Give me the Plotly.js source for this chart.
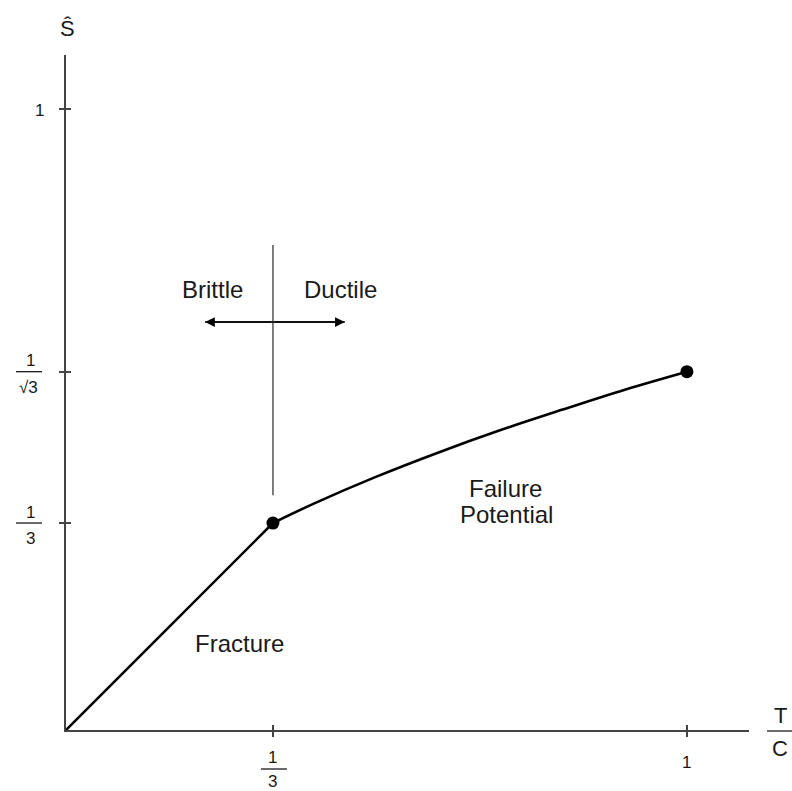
<!DOCTYPE html>
<html>
<head>
<meta charset="utf-8">
<script src="https://cdn.plot.ly/plotly-3.0.1.min.js"></script>
<style>html,body{margin:0;padding:0;background:#fff;}#chart{width:792px;height:791px;}</style>
</head>
<body>
<div id="chart"></div>
<script>
// Data
const fractureX = [0, 0.3333];
const fractureY = [0, 0.3333];
const ductileX = [0.3333, 0.4, 0.5, 0.6, 0.7, 0.8, 0.9, 1.0];
const ductileY = [0.3333, 0.365, 0.408, 0.447, 0.483, 0.516, 0.548, 0.577];
const pointsX = [0.3333, 1.0];
const pointsY = [0.3333, 0.577];
const xTickVals = [0.3333, 1.0];
const yTickVals = [0.3333, 0.577, 1.0];
const dividerX = 0.3333;
const dividerY = [0.378, 0.781];
const arrowY = 0.657;
const arrowX = [0.224, 0.449];

const X_RANGE = [0, 1.1];
const Y_RANGE = [0, 1.087];

const FONT = 'Liberation Sans, Arial, Helvetica, sans-serif';
const TXT = '#1a1a1a';
const AX = '#444444';

const traces = [
  {x: fractureX, y: fractureY, mode: 'lines', line: {color: '#000', width: 2.6}, hoverinfo: 'skip'},
  {x: ductileX, y: ductileY, mode: 'lines', line: {color: '#000', width: 2.6, shape: 'spline'}, hoverinfo: 'skip'},
  {x: [dividerX, dividerX], y: dividerY, mode: 'lines', line: {color: '#555', width: 1.5}, hoverinfo: 'skip'},
  {x: [arrowX[0], arrowX[1]], y: [arrowY, arrowY], mode: 'lines', line: {color: '#000', width: 1.5}, hoverinfo: 'skip'},
  {x: pointsX, y: pointsY, mode: 'markers', marker: {color: '#000', size: 13}, hoverinfo: 'skip', cliponaxis: false},
  // invisible trace so the inner-tick axes are drawn
  {x: [0], y: [0], xaxis: 'x2', yaxis: 'y2', mode: 'markers', marker: {opacity: 0}, hoverinfo: 'skip'}
];

const shapes = [];
function px(v) { return (v - X_RANGE[0]) / (X_RANGE[1] - X_RANGE[0]); }
function py(v) { return (v - Y_RANGE[0]) / (Y_RANGE[1] - Y_RANGE[0]); }
function bar(xa, ya, x0, x1, y0) {
  shapes.push({type: 'line', xref: 'paper', yref: 'paper', xsizemode: 'pixel', ysizemode: 'pixel',
    xanchor: px(xa), yanchor: py(ya), x0: x0, x1: x1, y0: y0, y1: y0, line: {color: TXT, width: 1.3}});
}

const ann = [];
function lab(x, y, text, xs, ys, size) {
  ann.push({x: x, y: y, xref: 'x', yref: 'y', text: text, showarrow: false, xshift: xs, yshift: ys,
    font: {family: FONT, size: size, color: TXT}, xanchor: 'center', yanchor: 'middle'});
}

// y tick labels
lab(0, yTickVals[2], '1', -27, -1, 17);
lab(0, yTickVals[1], '1', -36, 11, 17); bar(0, yTickVals[1], -50, -24, 0); lab(0, yTickVals[1], '√3', -38, -16, 17);
lab(0, yTickVals[0], '1', -36, 11, 17); bar(0, yTickVals[0], -50, -24, 0); lab(0, yTickVals[0], '3', -36, -15, 17);
// x tick labels
lab(xTickVals[0], 0, '1', 0, -27, 17); bar(xTickVals[0], 0, -12, 14, -39); lab(xTickVals[0], 0, '3', 0, -51, 17);
lab(xTickVals[1], 0, '1', 0, -32, 17);
// axis titles
lab(X_RANGE[1], 0, 'T', 31, 15, 22); bar(X_RANGE[1], 0, 18, 43, -1); lab(X_RANGE[1], 0, 'C', 31, -18, 22);
lab(0, Y_RANGE[1], 'Ŝ', 1, 27, 22);
// region labels
lab(dividerX, arrowY, 'Brittle', -60, 33, 24);
lab(dividerX, arrowY, 'Ductile', 68, 33, 24);
lab(0.2805, 0.137, 'Fracture', -1, 1, 24);
lab(0.715, 0.386, 'Failure', -4, 2, 24);
lab(0.715, 0.344, 'Potential', -3, 2, 24);
// arrowheads
arrowX.forEach(v => ann.push({x: v, y: arrowY, xref: 'x', yref: 'y', ax: dividerX, ay: arrowY, axref: 'x', ayref: 'y',
  text: '', showarrow: true, arrowhead: 2, arrowsize: 1.3, arrowwidth: 1.5, arrowcolor: '#000'}));

const axBase = {showgrid: false, zeroline: false, showticklabels: false, fixedrange: true, tickcolor: AX, tickwidth: 1.6, ticklen: 5};
const layout = {
  width: 792, height: 791,
  margin: {l: 66, r: 43, t: 55, b: 61, pad: 0},
  paper_bgcolor: '#fff', plot_bgcolor: '#fff',
  showlegend: false,
  xaxis: Object.assign({}, axBase, {range: X_RANGE, showline: true, linecolor: AX, linewidth: 2, ticks: 'outside', tickvals: xTickVals}),
  yaxis: Object.assign({}, axBase, {range: Y_RANGE, showline: true, linecolor: AX, linewidth: 2, ticks: 'outside', tickvals: yTickVals}),
  xaxis2: Object.assign({}, axBase, {range: X_RANGE, overlaying: 'x', anchor: 'y2', side: 'bottom', showline: false, ticks: 'inside', tickvals: xTickVals}),
  yaxis2: Object.assign({}, axBase, {range: Y_RANGE, overlaying: 'y', anchor: 'x2', side: 'left', showline: false, ticks: 'inside', tickvals: yTickVals}),
  shapes: shapes,
  annotations: ann
};

Plotly.newPlot('chart', traces, layout, {displayModeBar: false, staticPlot: true});
</script>
</body>
</html>
